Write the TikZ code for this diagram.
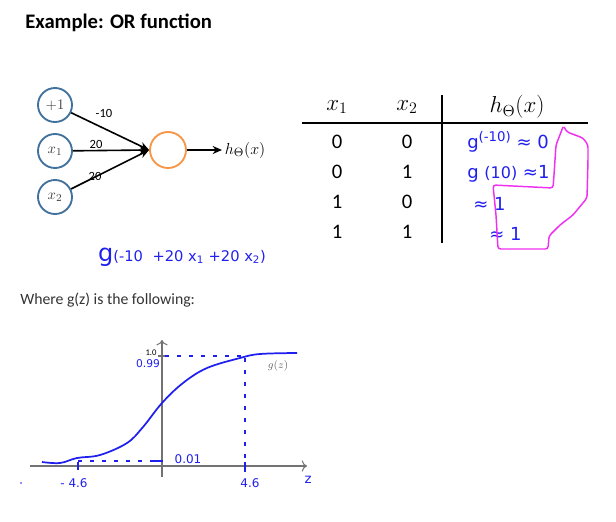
\documentclass[tikz,border=0pt]{standalone}
\usepackage[no-math]{fontspec}
\newfontfamily\calfont{Carlito}
\newfontfamily\hw{DejaVu Sans}
\usetikzlibrary{arrows.meta}
\definecolor{inblue}{HTML}{41719C}
\definecolor{outorange}{HTML}{F79646}
\definecolor{pen}{HTML}{2020EE}
\definecolor{mag}{HTML}{F030F0}
\definecolor{txtgray}{HTML}{333333}
\tikzset{
  inp/.style={circle, draw=inblue, line width=1.4pt, minimum size=25.5pt, inner sep=0pt, text=black!75, font=\fontsize{10.95}{12}\selectfont},
  outn/.style={circle, draw=outorange, line width=1.4pt, minimum size=27pt, inner sep=0pt},
  edge/.style={line width=1.2pt, -{Stealth[length=7pt,width=6pt]}},
  wlab/.style={font=\calfont\fontsize{9.4}{10}\selectfont, inner sep=0pt},
  hdr/.style={font=\fontsize{18}{20}\selectfont},
  dig/.style={font=\calfont\fontsize{15.5}{18}\selectfont},
  hand/.style={text=pen, font=\hw, inner sep=0pt},
  rowtxt/.style={hand, anchor=west, font=\hw\fontsize{13.5}{15}\selectfont},
  axis/.style={draw=black!55, line width=0.8pt},
  curve/.style={draw=pen, line width=1.3pt},
  dsh/.style={draw=pen, line width=0.8pt, dash pattern=on 3pt off 6pt}
}
\begin{document}
\begin{tikzpicture}[x=0.75pt,y=-0.75pt]
\useasboundingbox (0,0) rectangle (616,521);
% title
\node[anchor=base west, inner sep=0pt, font=\calfont\bfseries\fontsize{15.5}{18}\selectfont] (title) at (25,28) {Example: OR function};
% network
\node[inp] (p1) at (55,105) {$+1$};
\node[inp] (x1) at (55,151) {$x_1$};
\node[inp] (x2) at (55,197) {$x_2$};
\node[outn] (h) at (168,150) {};
\node[anchor=west, inner sep=2pt, font=\fontsize{13}{15}\selectfont] (hout) at (222,150) {$h_\Theta(x)$};
\draw[edge] (p1) -- (h.west);
\draw[edge] (x1) -- (h.west);
\draw[edge] (x2) -- (h.west);
\draw[edge] (h) -- (hout.west);
\node[wlab] (w1) at (104,113) {-10};
\node[wlab] (w2) at (96,144) {20};
\node[wlab] (w3) at (95,176) {20};
% table
\node[hdr] (hx1) at (337,107) {$x_1$};
\node[hdr] (hx2) at (407,107) {$x_2$};
\node[hdr] (hh) at (517,107) {$h_\Theta(x)$};
\draw[line width=0.8pt] (302,123) -- (588,123);
\draw[line width=0.8pt] (442,95) -- (442,243);
\node[dig] (a1) at (337,142) {0}; \node[dig] (b1) at (407,142) {0};
\node[dig] (a2) at (337,172) {0}; \node[dig] (b2) at (407,172) {1};
\node[dig] (a3) at (337,202) {1}; \node[dig] (b3) at (407,202) {0};
\node[dig] (a4) at (337,232) {1}; \node[dig] (b4) at (407,232) {1};
\node[rowtxt] (r1) at (467,142) {g{\fontsize{10}{11}\selectfont\raisebox{5pt}{(-10)}} ≈ 0};
\node[rowtxt] (r2) at (467,174) {g {\fontsize{12}{13}\selectfont(10)} ≈1};
\node[rowtxt] (r3) at (473,204) {≈ 1};
\node[rowtxt] (r4) at (489,234) {≈ 1};
\draw[mag, line width=1.1pt, rounded corners=2pt]
  (563,127) -- (556,145) -- (554,175) -- (553,188) -- (493,185) -- (496,215) -- (498,249)
  -- (548,249) -- (549,236) -- (560,225) -- (573,215) -- (587,198) -- (588,160) -- (588,145)
  -- (583,138) -- (567,132) -- (564,127);
% formula
\node[hand, font=\hw\fontsize{11}{12}\selectfont] (form) at (182,257) {{\fontsize{18}{19}\selectfont g}(-10\,\, +20 x\textsubscript{1} +20 x\textsubscript{2})};
\node[anchor=west, inner sep=0pt, text=txtgray, font=\calfont\fontsize{11.8}{14}\selectfont] (where) at (20,300) {Where g(z) is the following:};
% sigmoid plot
\draw[axis, -{To[length=4pt]}] (162,477) -- (162,340);
\draw[axis, -{To[length=4pt]}] (30,466) -- (307,466);
\draw[axis] (158,356) -- (166,356);
\draw[curve] plot[smooth, tension=0.6] coordinates {(42,462) (60,463) (77,458) (100,455) (127,443) (143,427) (162,403) (183,383) (207,368) (240,358) (260,354) (297,353)};
\draw[dsh] (165,356) -- (243,356);
\draw[dsh] (245,358) -- (245,462);
\draw[dsh] (78,461) -- (150,461);
\draw[pen, line width=0.9pt] (150,461) -- (163,461);
\draw[pen, line width=0.9pt] (78,462) -- (78,470);
\draw[pen, line width=0.9pt] (245,462) -- (245,472);
\node[hand, font=\hw\fontsize{9}{10}\selectfont] (lm) at (74,483) {- 4.6};
\node[hand, font=\hw\fontsize{9}{10}\selectfont] (lp) at (250,483) {4.6};
\node[hand, font=\hw\fontsize{10}{10}\selectfont] (lz) at (308,480) {z};
\node[hand, font=\hw\fontsize{9}{10}\selectfont] (l01) at (188,459) {0.01};
\node[hand, font=\hw\fontsize{8}{10}\selectfont] (l99) at (148,364) {0.99};
\node[inner sep=0pt, font=\calfont\fontsize{6.5}{7}\selectfont] (l10) at (151,353) {1.0};
\node[inner sep=0pt, text=black!60, font=\fontsize{8}{9}\selectfont] (gz) at (278,366) {$g(z)$};
\fill[pen] (21,483) circle (0.9);
\end{tikzpicture}
\end{document}
